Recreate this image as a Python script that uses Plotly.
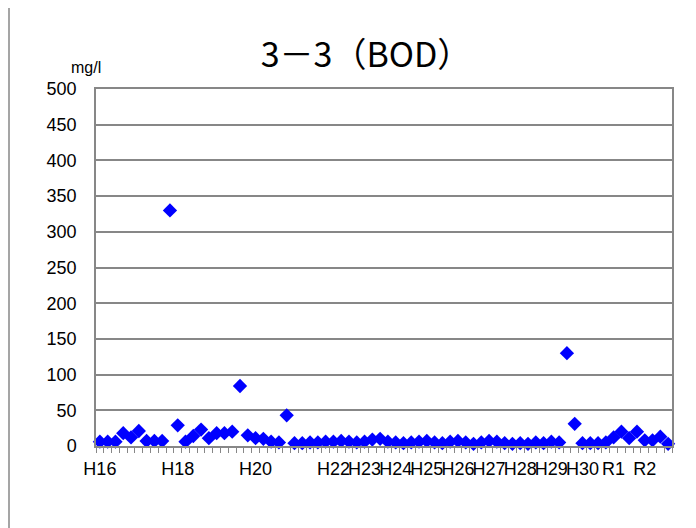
import plotly.graph_objects as go

title_text = "3－3（BOD）"
unit_label = "mg/l"

# Category labels (one per sample; blank where no label is shown)
x_labels = [""] * 74
label_positions = {0: "H16", 10: "H18", 20: "H20", 30: "H22", 34: "H23", 38: "H24",
                   42: "H25", 46: "H26", 50: "H27", 54: "H28", 58: "H29", 62: "H30",
                   66: "R1", 70: "R2"}
for k, v in label_positions.items():
    x_labels[k] = v

bod_values = [
    6, 6, 6, 18, 12, 21, 7, 7, 7, 330,
    29, 6, 14, 23, 11, 18, 18, 20, 84, 15,
    11, 10, 6, 5, 43, 4, 4, 5, 5, 6,
    6, 7, 6, 5, 6, 9, 10, 6, 5, 4,
    5, 6, 7, 5, 4, 6, 7, 5, 3, 5,
    7, 6, 4, 3, 4, 3, 5, 4, 6, 5,
    130, 31, 4, 4, 4, 5, 12, 20, 11, 20,
    8, 8, 13, 3,
]

y_ticks = list(range(0, 501, 50))

idx = list(range(len(bod_values)))
tickvals = [i for i, l in enumerate(x_labels) if l]
ticktext = [x_labels[i] for i in tickvals]

GRAY = "#878787"
L, R, T, B = 88, 32, 81, 90
PW, PH = 696 - L - R, 528 - T - B

fig = go.Figure()
fig.add_trace(go.Scatter(
    x=idx, y=bod_values, mode="markers",
    marker=dict(symbol="diamond", size=11, color="#0000FF", line=dict(width=0)),
    cliponaxis=False, showlegend=False, hoverinfo="y",
))

fig.update_layout(
    width=696, height=528,
    margin=dict(l=L, r=R, t=T, b=B),
    paper_bgcolor="white", plot_bgcolor="white",
    font=dict(family="Liberation Sans, Arial, sans-serif", size=18, color="black"),
    title=dict(text=title_text, x=358 / 696, xanchor="center",
               y=1 - 47 / 528, yanchor="middle", yref="container",
               font=dict(family="Noto Sans CJK JP", size=34, color="black")),
    xaxis=dict(range=[-0.5, len(bod_values) - 0.5], tickmode="array",
               tickvals=tickvals, ticktext=ticktext, tickangle=0,
               showgrid=False, zeroline=False, showline=True, linecolor=GRAY,
               linewidth=1.5, mirror=True, ticks="", ticklabelstandoff=6,
               minor=dict(tickmode="linear", tick0=0.5, dtick=1, ticks="outside",
                          ticklen=5, tickcolor=GRAY, tickwidth=1, showgrid=False)),
    yaxis=dict(range=[0, 500], tickmode="array", tickvals=y_ticks,
               showgrid=True, gridcolor=GRAY, gridwidth=1.5, zeroline=False,
               showline=True, linecolor=GRAY, linewidth=1.5, mirror=True,
               ticks="", ticklabelstandoff=14),
    annotations=[dict(text=unit_label, xref="paper", yref="paper",
                      x=(78 - L) / PW, y=(T + PH - 59) / PH,
                      xanchor="center", yanchor="middle", showarrow=False,
                      font=dict(size=16, color="black"))],
    shapes=[dict(type="line", xref="paper", yref="paper",
                 x0=(1 - L) / PW, x1=(1 - L) / PW,
                 y0=(T + PH - 528) / PH, y1=(T + PH) / PH,
                 line=dict(color=GRAY, width=1.5))],
)

fig.write_html("out.html")
